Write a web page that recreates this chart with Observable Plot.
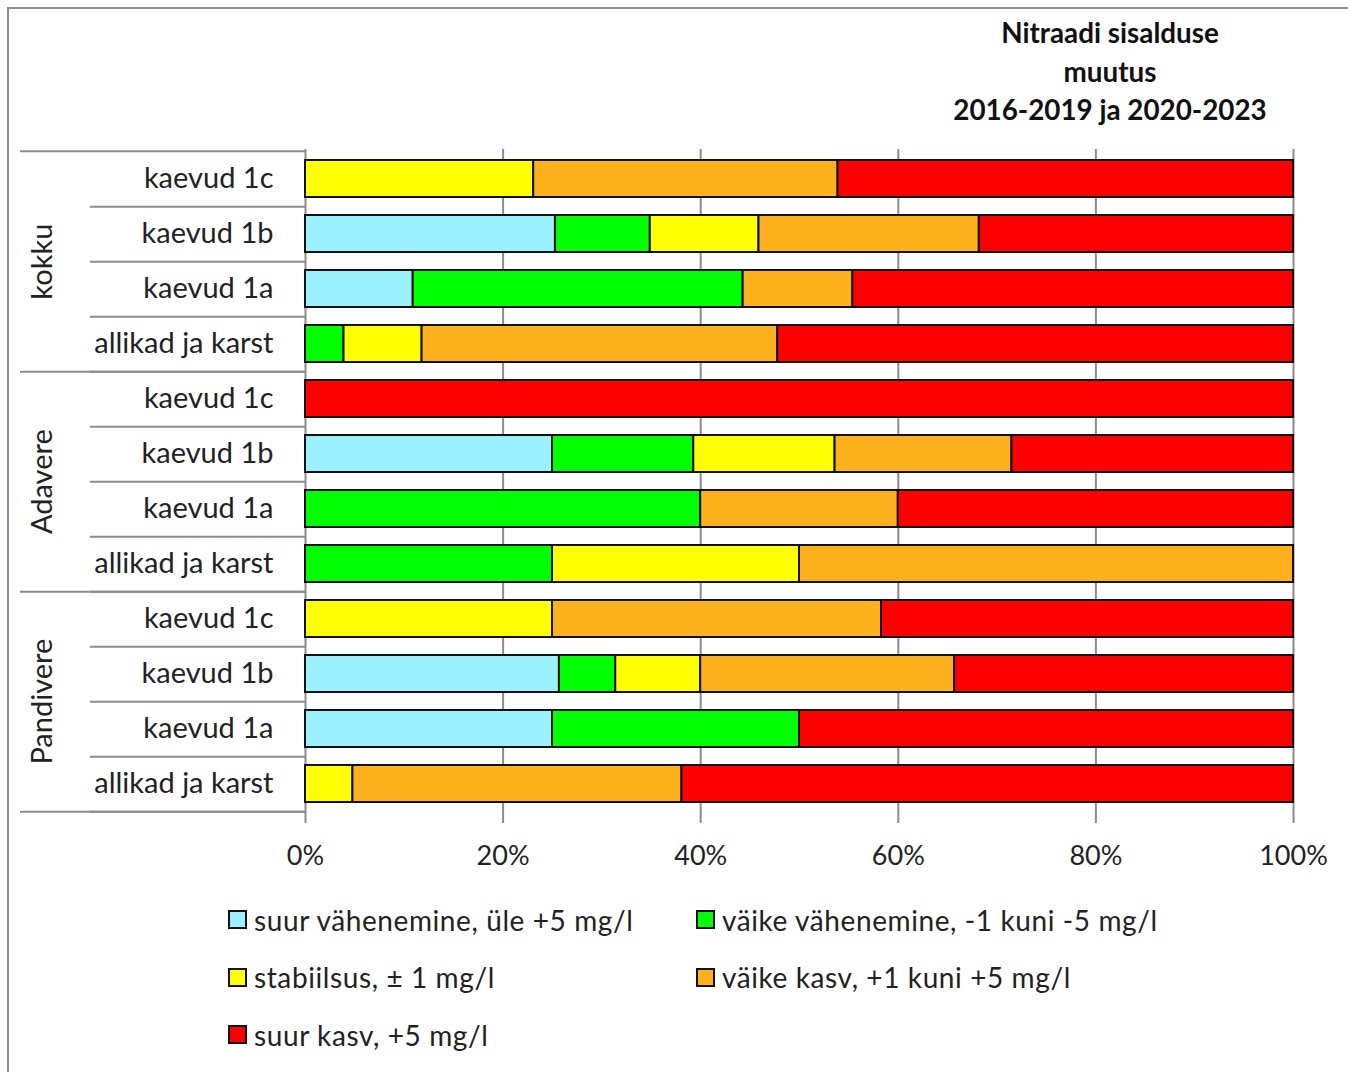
<!DOCTYPE html>
<html>
<head>
<meta charset="utf-8">
<script src="https://cdn.jsdelivr.net/npm/d3@7"></script>
<script src="https://cdn.jsdelivr.net/npm/@observablehq/plot@0.6"></script>
<style>
  body { margin: 0; background: #fff; font-family: Lato, "Noto Sans", sans-serif; }
  #wrap { position: relative; width: 1348px; height: 1072px; overflow: hidden; background: #fff; }
  #frame { position: absolute; left: 7px; top: 7px; right: -10px; bottom: -10px;
           border-left: 2px solid #8c8c8c; border-top: 2px solid #8c8c8c; }
  #title { position: absolute; left: 910px; top: 14px; width: 400px; text-align: center;
           font-weight: bold; font-size: 27.8px; line-height: 38.5px; color: #111; }
  #chart { position: absolute; left: 0; top: 140px; }
  #legend { position: absolute; left: 228px; top: 891px; display: grid;
            grid-template-columns: 468px 460px; grid-auto-rows: 57.5px;
            font-size: 28px; letter-spacing: 0.6px; color: #222; }
  .item { display: flex; align-items: center; white-space: nowrap; }
  .sw { width: 15px; height: 15px; border: 2px solid #111; margin-right: 7px; flex: none; }
</style>
</head>
<body>
<div id="wrap">
  <div id="frame"></div>
  <div id="title"></div>
  <div id="chart"></div>
  <div id="legend"></div>
</div>
<script>
// ---- data ----
const titleLines = ["Nitraadi sisalduse", "muutus", "2016-2019 ja 2020-2023"];
const groups = ["kokku", "Adavere", "Pandivere"];
const categories = ["kaevud 1c", "kaevud 1b", "kaevud 1a", "allikad ja karst"];
const classLabels = [
  "suur vähenemine, üle +5 mg/l",
  "väike vähenemine, -1 kuni -5 mg/l",
  "stabiilsus, ± 1 mg/l",
  "väike kasv, +1 kuni +5 mg/l",
  "suur kasv, +5 mg/l"
];
const classColors = ["#9cf1ff", "#00ff00", "#ffff00", "#fdb11c", "#ff0000"];
// percent per row: kokku (1c,1b,1a,allikad), Adavere (...), Pandivere (...)
const suurVahenemine  = [0,    25.3, 10.9, 0,    0,   25.0, 0,  0,  0,    25.7, 25, 0];
const vaikeVahenemine = [0,    9.6,  33.4, 3.9,  0,   14.3, 40, 25, 0,    5.7,  25, 0];
const stabiilsus      = [23.1, 11.0, 0,    7.9,  0,   14.3, 0,  25, 25,   8.6,  0,  4.8];
const vaikeKasv       = [30.8, 22.3, 11.1, 36.0, 0,   17.9, 20, 50, 33.3, 25.7, 0,  33.3];
const suurKasv        = [46.1, 31.8, 44.6, 52.2, 100, 28.5, 40, 0,  41.7, 34.3, 50, 61.9];
const xTicks = [0, 0.2, 0.4, 0.6, 0.8, 1];

// ---- build table ----
const series = [suurVahenemine, vaikeVahenemine, stabiilsus, vaikeKasv, suurKasv];
const keys = [];
groups.forEach(g => categories.forEach(c => keys.push(g + "|" + c)));
const rows = [];
keys.forEach((k, i) => series.forEach((s, si) => {
  if (s[i] > 0) rows.push({key: k, cls: classLabels[si], v: s[i] / 100});
}));

const W = 1348, H = 740, mT = 9, mB = 67, mL = 305, mR = 55;
const step = (H - mT - mB) / keys.length;
const grey = "#8c8c8c";

const chart = Plot.plot({
  width: W, height: H,
  marginTop: mT, marginBottom: mB, marginLeft: mL, marginRight: mR,
  style: {fontFamily: "Lato, 'Noto Sans', sans-serif", fontSize: "27px", color: "#222", background: "transparent", overflow: "visible"},
  x: {domain: [0, 1], axis: null},
  y: {domain: keys, axis: null, paddingInner: 0.33, paddingOuter: 0.165},
  color: {domain: classLabels, range: classColors},
  marks: [
    Plot.gridX({ticks: xTicks, stroke: grey, strokeOpacity: 1, strokeWidth: 2}),
    Plot.axisX({ticks: xTicks, tickFormat: d3.format(".0%"), tickSize: 10, tickPadding: 22,
                stroke: grey, strokeWidth: 2, fill: "#222", label: null}),
    Plot.barX(rows, {x: "v", y: "key", fill: "cls", stroke: "#111", strokeWidth: 2}),
    // category labels
    Plot.axisY({tickSize: 0, tickPadding: 32, tickFormat: k => k.split("|")[1], fill: "#222",
                fontSize: 29, label: null}),
    // row separators (bottom of each row)
    Plot.axisY({text: null, tickSize: 215, dy: step / 2, stroke: grey, strokeWidth: 2, label: null}),
    // group separators
    Plot.axisY({ticks: groups.map(g => g + "|" + categories[categories.length - 1]), text: null,
                tickSize: 285, dy: step / 2, stroke: grey, strokeWidth: 2, label: null}),
    Plot.axisY({ticks: [keys[0]], text: null, tickSize: 285, dy: -step / 2, stroke: grey, strokeWidth: 2, label: null}),
    // group labels
    Plot.text(groups, {y: g => g + "|" + categories[1], text: d => d, dy: step / 2,
                       frameAnchor: "left", dx: -263, rotate: -90, textAnchor: "middle",
                       fontSize: 29, fill: "#222"})
  ]
});
document.getElementById("chart").appendChild(chart);

document.getElementById("title").innerHTML = titleLines.map(t => `<div>${t}</div>`).join("");

const legend = document.getElementById("legend");
classLabels.forEach((lab, i) => {
  const it = document.createElement("div");
  it.className = "item";
  it.innerHTML = `<span class="sw" style="background:${classColors[i]}"></span><span>${lab}</span>`;
  legend.appendChild(it);
});
</script>
</body>
</html>
